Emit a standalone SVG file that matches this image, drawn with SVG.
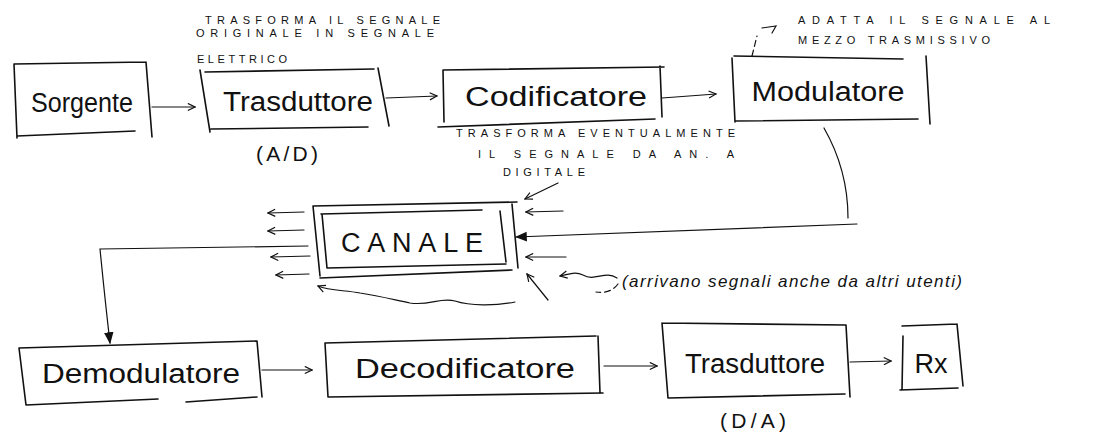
<svg xmlns="http://www.w3.org/2000/svg" width="1093" height="438" viewBox="0 0 1093 438">
<defs>
<style>
.b{fill:none;stroke:#111;stroke-width:1.6;stroke-linecap:round;stroke-linejoin:round}
.t{fill:none;stroke:#111;stroke-width:1.2;stroke-linecap:round}
.d{fill:none;stroke:#111;stroke-width:1.2;stroke-dasharray:6 4;stroke-linecap:round}
.lbl{font-family:"Liberation Sans",Arial,sans-serif;font-size:27px;fill:#111;text-anchor:middle}
.cap{font-family:"Liberation Sans",Arial,sans-serif;font-size:11px;fill:#111}
.note{font-family:"Liberation Sans",Arial,sans-serif;font-size:17px;fill:#111;font-style:italic}
</style>
<marker id="ah" viewBox="0 0 10 10" refX="9" refY="5" markerWidth="9" markerHeight="9" orient="auto" markerUnits="userSpaceOnUse">
<path d="M1,1 L9,5 L1,9" fill="none" stroke="#111" stroke-width="1.3"/>
</marker>
<marker id="af" viewBox="0 0 10 10" refX="9" refY="5" markerWidth="12" markerHeight="12" orient="auto" markerUnits="userSpaceOnUse">
<path d="M0,1 L10,5 L0,9 Z" fill="#111"/>
</marker>
</defs>
<rect width="1093" height="438" fill="#fff"/>

<g id="sorgente">
<path class="b" d="M14,64 L146,62 M14,64 L17,138 M17,136 L135,131 M146,62 L152,137"/>
<text class="lbl" x="82" y="112" textLength="102" lengthAdjust="spacingAndGlyphs">Sorgente</text>
</g>

<g id="trasduttore-ad">
<path class="b" d="M200,70 L210,132 M205,72 L374,69 M211,129 L368,127 M378,68 L389,126"/>
<text class="lbl" x="298" y="111" textLength="150" lengthAdjust="spacingAndGlyphs">Trasduttore</text>
<text class="lbl" x="287" y="161" style="font-size:21px" textLength="62" lengthAdjust="spacing">(A/D)</text>
<text class="cap" x="205" y="24" textLength="235" lengthAdjust="spacing">TRASFORMA  IL  SEGNALE</text>
<text class="cap" x="196" y="37" textLength="238" lengthAdjust="spacing">ORIGINALE  IN  SEGNALE</text>
<text class="cap" x="197" y="63" textLength="90" lengthAdjust="spacing">ELETTRICO</text>
</g>

<g id="codificatore">
<path class="b" d="M443,70 L664,67 M443,70 L444,122 M438,127 L655,119 M660,66 L662,117"/>
<text class="lbl" x="556" y="106" textLength="182" lengthAdjust="spacingAndGlyphs">Codificatore</text>
<text class="cap" x="456" y="137" textLength="279" lengthAdjust="spacing">TRASFORMA EVENTUALMENTE</text>
<text class="cap" x="478" y="158" textLength="256" lengthAdjust="spacing">IL  SEGNALE   DA  AN.  A</text>
<text class="cap" x="503" y="176" textLength="82" lengthAdjust="spacing">DIGITALE</text>
</g>

<g id="modulatore">
<path class="b" d="M732,58 L735,122 M734,56 L903,59 M735,121 L918,119 M926,56 L930,124"/>
<text class="lbl" x="828" y="101" textLength="153" lengthAdjust="spacingAndGlyphs">Modulatore</text>
<text class="cap" x="798" y="24" textLength="252" lengthAdjust="spacing">ADATTA   IL   SEGNALE   AL</text>
<text class="cap" x="798" y="44" textLength="192" lengthAdjust="spacing">MEZZO   TRASMISSIVO</text>
</g>

<g id="canale">
<path class="b" d="M313,206 L517,202 M313,206 L320,276 M320,278 L512,270 M512,204 L518,268"/>
<path class="b" d="M321,214 L482,210 M322,214 L327,268 M327,268 L506,264 M500,211 L506,262"/>
<text class="lbl" x="412" y="252" textLength="142" lengthAdjust="spacing">CANALE</text>
</g>

<g id="demodulatore">
<path class="b" d="M19,348 L257,341 M19,348 L26,405 M26,405 L158,399 M186,402 L257,397 M257,341 L262,397"/>
<text class="lbl" x="141" y="383" textLength="198" lengthAdjust="spacingAndGlyphs">Demodulatore</text>
</g>

<g id="decodificatore">
<path class="b" d="M325,343 L596,336 M325,343 L328,397 M328,397 L603,393 M598,336 L600,393"/>
<text class="lbl" x="465" y="378" textLength="220" lengthAdjust="spacingAndGlyphs">Decodificatore</text>
</g>

<g id="trasduttore-da">
<path class="b" d="M662,323 L846,325 M662,323 L668,398 M668,398 L845,394 M846,325 L850,397"/>
<text class="lbl" x="755" y="373" textLength="140" lengthAdjust="spacingAndGlyphs">Trasduttore</text>
<text class="lbl" x="753" y="428" style="font-size:21px" textLength="66" lengthAdjust="spacing">(D/A)</text>
</g>

<g id="rx">
<path class="b" d="M902,326 L957,324 M903,336 L902,390 M900,390 L958,388 M957,324 L963,386"/>
<text class="lbl" x="931" y="373">Rx</text>
</g>

<g id="nota-canale">
<text class="note" x="622" y="287" textLength="340" lengthAdjust="spacing">(arrivano segnali anche da altri utenti)</text>
</g>

<g id="connectors">
<path class="t" d="M152,107 L195,107" marker-end="url(#ah)"/>
<path class="t" d="M386,98 L437,96" marker-end="url(#ah)"/>
<path class="t" d="M662,98 L716,94" marker-end="url(#ah)"/>
<path class="t" d="M824,128 Q848,170 848,218"/>
<path class="t" d="M857,224 L516,237" marker-end="url(#af)"/>
<path class="t" d="M308,246 L100,249 Q105,300 110,343" marker-end="url(#af)"/>
<path class="t" d="M262,370 L312,370" marker-end="url(#ah)"/>
<path class="t" d="M604,366 L657,366" marker-end="url(#ah)"/>
<path class="t" d="M850,362 L891,361" marker-end="url(#ah)"/>
<path class="t" d="M304,212 L268,213" marker-end="url(#ah)"/>
<path class="t" d="M304,230 L268,231" marker-end="url(#ah)"/>
<path class="t" d="M310,256 L271,257" marker-end="url(#ah)"/>
<path class="t" d="M309,274 L276,275" marker-end="url(#ah)"/>
<path class="t" d="M563,211 L526,212" marker-end="url(#ah)"/>
<path class="t" d="M566,257 L526,257" marker-end="url(#ah)"/>
<path class="t" d="M558,183 L525,199" marker-end="url(#ah)"/>
<path class="t" d="M548,300 L527,274" marker-end="url(#ah)"/>
<path class="t" d="M617,278 C605,270 595,282 583,275 C575,271 570,274 560,276" marker-end="url(#ah)"/>
<path class="d" d="M618,284 C612,292 604,293 596,292"/>
<path class="t" d="M515,302 C495,306 470,306 455,301 C440,297 430,306 410,303 C395,300 380,296 360,293 C345,290 330,291 318,286" marker-end="url(#ah)"/>
<path class="d" d="M752,56 L757,36"/>
<path class="t" d="M762,28 L776,26 L772,33"/>
</g>
</svg>
